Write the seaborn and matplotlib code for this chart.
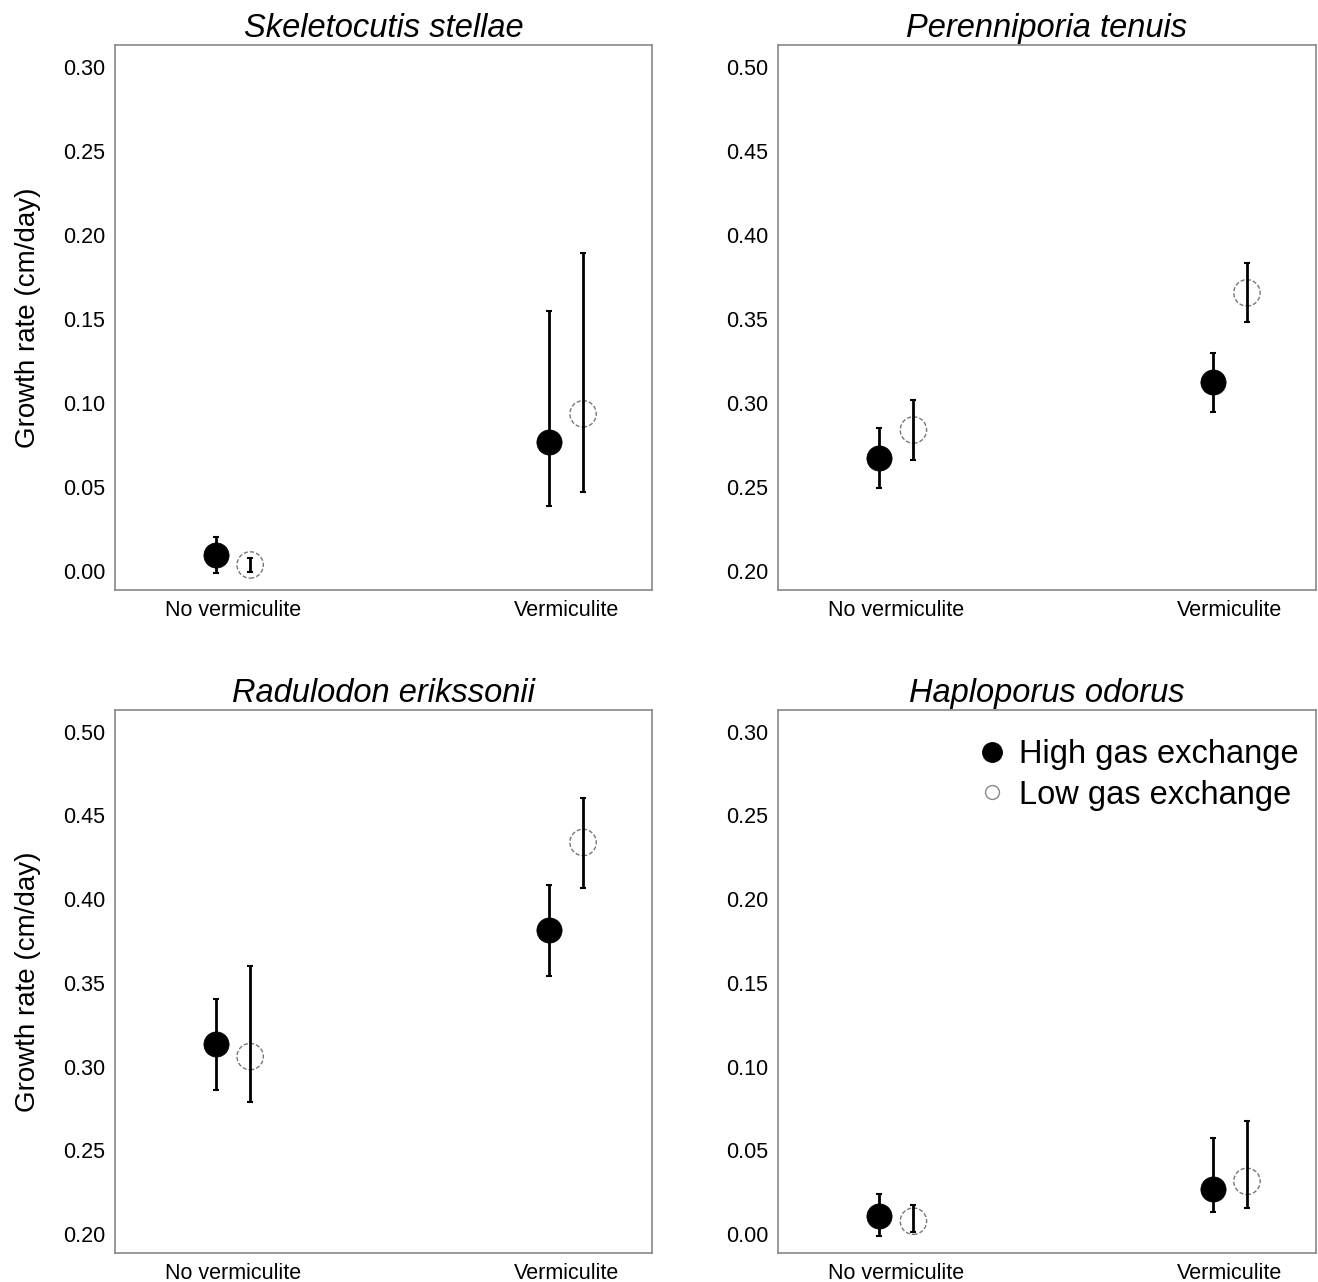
import numpy as np
import pandas as pd
import matplotlib
matplotlib.use("Agg")
import matplotlib.pyplot as plt
from matplotlib.lines import Line2D
import seaborn as sns

species = ["Skeletocutis stellae", "Perenniporia tenuis", "Radulodon erikssonii", "Haploporus odorus"]
treatments = ["No vermiculite", "Vermiculite"]
gas = ["High gas exchange", "Low gas exchange"]

# means, order: [NoV-high, NoV-low, V-high, V-low]
means = {
    "Skeletocutis stellae": [0.0095, 0.0036, 0.0768, 0.0935],
    "Perenniporia tenuis": [0.2673, 0.2839, 0.3125, 0.3655],
    "Radulodon erikssonii": [0.3137, 0.3060, 0.3815, 0.4339],
    "Haploporus odorus": [0.0107, 0.0077, 0.0268, 0.0315],
}
lower = {
    "Skeletocutis stellae": [-0.0010, -0.0003, 0.0387, 0.0470],
    "Perenniporia tenuis": [0.2494, 0.2661, 0.2946, 0.3482],
    "Radulodon erikssonii": [0.2863, 0.2786, 0.3542, 0.4066],
    "Haploporus odorus": [-0.0010, 0.0012, 0.0131, 0.0155],
}
upper = {
    "Skeletocutis stellae": [0.0200, 0.0077, 0.1550, 0.1890],
    "Perenniporia tenuis": [0.2851, 0.3018, 0.3298, 0.3833],
    "Radulodon erikssonii": [0.3405, 0.3600, 0.4083, 0.4607],
    "Haploporus odorus": [0.0238, 0.0173, 0.0571, 0.0673],
}
yticks = {
    "Skeletocutis stellae": [0.00, 0.05, 0.10, 0.15, 0.20, 0.25, 0.30],
    "Perenniporia tenuis": [0.20, 0.25, 0.30, 0.35, 0.40, 0.45, 0.50],
    "Radulodon erikssonii": [0.20, 0.25, 0.30, 0.35, 0.40, 0.45, 0.50],
    "Haploporus odorus": [0.00, 0.05, 0.10, 0.15, 0.20, 0.25, 0.30],
}

sns.set_theme(style="white")
plt.rcParams["font.family"] = ["Liberation Sans", "DejaVu Sans"]
plt.rcParams["text.color"] = "black"
plt.rcParams["axes.labelcolor"] = "black"
plt.rcParams["xtick.labelcolor"] = "black"
plt.rcParams["ytick.labelcolor"] = "black"

fig = plt.figure(figsize=(13.18, 12.82), dpi=100)
W, H = 1318, 1282
boxes = [(115, 45, 652, 590), (778, 45, 1316, 590), (115, 710, 652, 1253), (778, 710, 1316, 1253)]

dodge = 0.051
for i, sp in enumerate(species):
    l, t, r, b = boxes[i]
    ax = fig.add_axes([l / W, 1 - b / H, (r - l) / W, (b - t) / H])
    rows = []
    k = 0
    for ti, tr in enumerate(treatments):
        for gi, g in enumerate(gas):
            rows.append({"treatment": tr, "gas": g, "x": ti + (-dodge if gi == 0 else dodge),
                         "mean": means[sp][k], "lo": lower[sp][k], "hi": upper[sp][k]})
            k += 1
    df = pd.DataFrame(rows)
    ax.errorbar(df["x"], df["mean"], yerr=[df["mean"] - df["lo"], df["hi"] - df["mean"]],
                fmt="none", ecolor="black", elinewidth=2, capsize=2.2, capthick=1.5, zorder=4)
    hi = df[df["gas"] == gas[0]]
    lo = df[df["gas"] == gas[1]]
    sns.scatterplot(data=hi, x="x", y="mean", ax=ax, s=330, color="black",
                    edgecolor="black", linewidth=0.5, legend=False, zorder=3)
    sns.scatterplot(data=lo, x="x", y="mean", ax=ax, s=360, facecolor="none",
                    edgecolor="#777777", linewidth=1.0, linestyle=(0, (3, 1.5)), legend=False, zorder=3)
    tk = yticks[sp]
    ax.set_ylim(tk[0] - 0.0113, tk[-1] + 0.013)
    ax.set_xlim(-0.355, 1.258)
    ax.set_yticks(tk)
    ax.set_yticklabels([f"{v:.2f}" for v in tk], fontsize=15.5)
    ax.set_xticks([0, 1])
    ax.set_xticklabels(treatments, fontsize=15.5)
    ax.tick_params(axis="y", length=4, width=1, color="#999999", pad=3)
    ax.tick_params(axis="x", length=0, pad=7)
    ax.set_xlabel("")
    if i % 2 == 0:
        ax.set_ylabel("Growth rate (cm/day)", fontsize=20, labelpad=16)
    else:
        ax.set_ylabel("")
    ax.set_title(sp, fontsize=23.5, style="italic", pad=1, va="bottom")
    for s in ax.spines.values():
        s.set_color("#888888")
        s.set_linewidth(1.2)
    if i == 3:
        handles = [
            Line2D([], [], marker="o", linestyle="none", markersize=14, color="black"),
            Line2D([], [], marker="o", linestyle="none", markersize=10, markerfacecolor="none",
                   markeredgecolor="#888888", markeredgewidth=1.0),
        ]
        ax.legend(handles, gas, loc="upper right", bbox_to_anchor=(0.9926, 0.9705),
                  fontsize=23.5, frameon=False, handletextpad=0.25, labelspacing=0.3,
                  borderaxespad=0.0, handlelength=1.2)

fig.savefig("out.png", dpi=100)
